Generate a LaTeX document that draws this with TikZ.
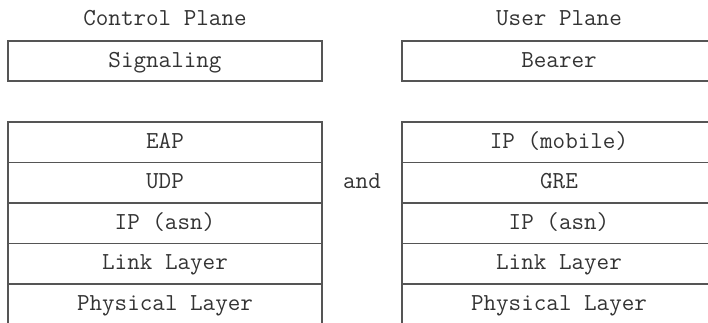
\documentclass[tikz,border=0pt]{standalone}
\usetikzlibrary{positioning,calc}
\definecolor{ink}{HTML}{333333}
\definecolor{rule}{HTML}{555555}

\begin{document}
\begin{tikzpicture}[
    x=0.5pt,y=-0.5pt,
    node distance=0pt,
    font=\ttfamily\fontsize{12.2}{14}\selectfont,
    every node/.style={text=ink},
    label/.style={inner sep=0pt,text height=0.62em,text depth=0pt},
    layer/.style={label,draw=rule,line width=0.7pt,outer sep=0pt,
      minimum width=157pt,minimum height=20.25pt}
  ]
  \useasboundingbox (0,0) rectangle (708,322);
  \clip (0,0) rectangle (708,322);
  % control plane
  \node[label] (ctitle) at (165,19) {Control Plane};
  \node[layer,minimum height=20pt] (sig) at (165,61) {Signaling};
  \node[layer] (eap) at (165,142.25) {EAP};
  \node[layer,below=of eap] (udp) {UDP};
  \node[layer,below=of udp] (cip) {IP (asn)};
  \node[layer,below=of cip] (clink) {Link Layer};
  \node[layer,below=of clink] (cphys) {Physical Layer};
  % user plane
  \node[label] (utitle) at (559,19) {User Plane};
  \node[layer,minimum height=20pt] (bearer) at (559,61) {Bearer};
  \node[layer] (mob) at (559,142.25) {IP (mobile)};
  \node[layer,below=of mob] (gre) {GRE};
  \node[layer,below=of gre] (uip) {IP (asn)};
  \node[layer,below=of uip] (ulink) {Link Layer};
  \node[layer,below=of ulink] (uphys) {Physical Layer};
  % between the stacks
  \node[label] (and) at ($(udp.east)!0.5!(gre.west)$) {and};
\end{tikzpicture}
\end{document}
